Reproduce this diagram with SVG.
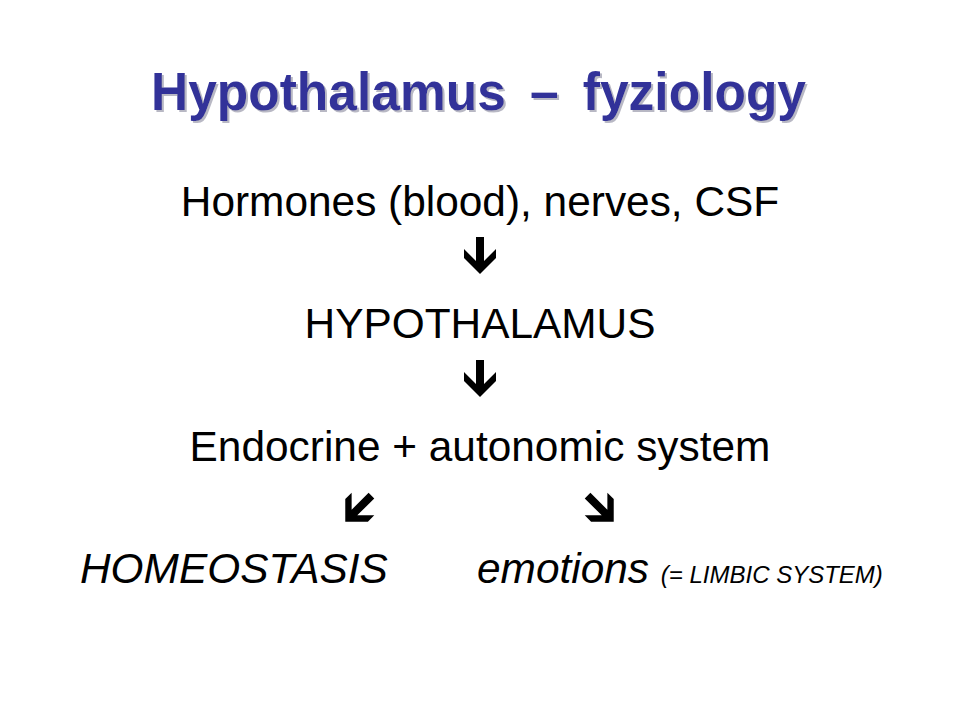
<svg xmlns="http://www.w3.org/2000/svg" width="960" height="720" viewBox="0 0 960 720">
<defs>
<style>
.title{font-family:"Liberation Sans",Arial,sans-serif;font-weight:bold;font-size:51.5px;fill:#333399}
.body{font-family:"Liberation Sans",Arial,sans-serif;font-size:42.4px;fill:#000}
.it{font-style:italic}
.small{font-size:24px}
.arrow{fill:#000}
</style>
<filter id="shadow" x="-5%" y="-20%" width="110%" height="150%">
<feOffset in="SourceAlpha" dx="2" dy="2" result="off"/>
<feFlood flood-color="#b8b8c4"/>
<feComposite in2="off" operator="in" result="sh"/>
<feMerge><feMergeNode in="sh"/><feMergeNode in="SourceGraphic"/></feMerge>
</filter>
<path id="dn" d="M-4,-19 L4,-19 L4,5 L16,-7 L16,2 L0,18 L-16,2 L-16,-7 L-4,5 Z"/>
</defs>
<rect width="960" height="720" fill="#fff"/>
<g id="title" filter="url(#shadow)">
<text class="title" transform="translate(0,110) scale(1,1.04)" x="151" y="0">Hypothalamus<tspan x="530">–</tspan><tspan x="806" text-anchor="end">fyziology</tspan></text>
</g>
<g id="inputs"><text class="body" x="480" y="216" text-anchor="middle">Hormones (blood), nerves, CSF</text></g>
<g id="hypothalamus"><text class="body" x="480" y="338" text-anchor="middle">HYPOTHALAMUS</text></g>
<g id="endocrine"><text class="body" x="480" y="461" text-anchor="middle">Endocrine + autonomic system</text></g>
<g id="homeostasis"><text class="body it" x="80" y="583">HOMEOSTASIS</text></g>
<g id="emotions"><text class="body it" x="477" y="583">emotions <tspan class="small">(= LIMBIC SYSTEM)</tspan></text></g>
<g id="connectors" class="arrow">
<use href="#dn" transform="translate(480,256)"/>
<use href="#dn" transform="translate(480,379)"/>
<use href="#dn" transform="translate(358,509) rotate(45)"/>
<use href="#dn" transform="translate(601,509) rotate(-45)"/>
</g>
</svg>
